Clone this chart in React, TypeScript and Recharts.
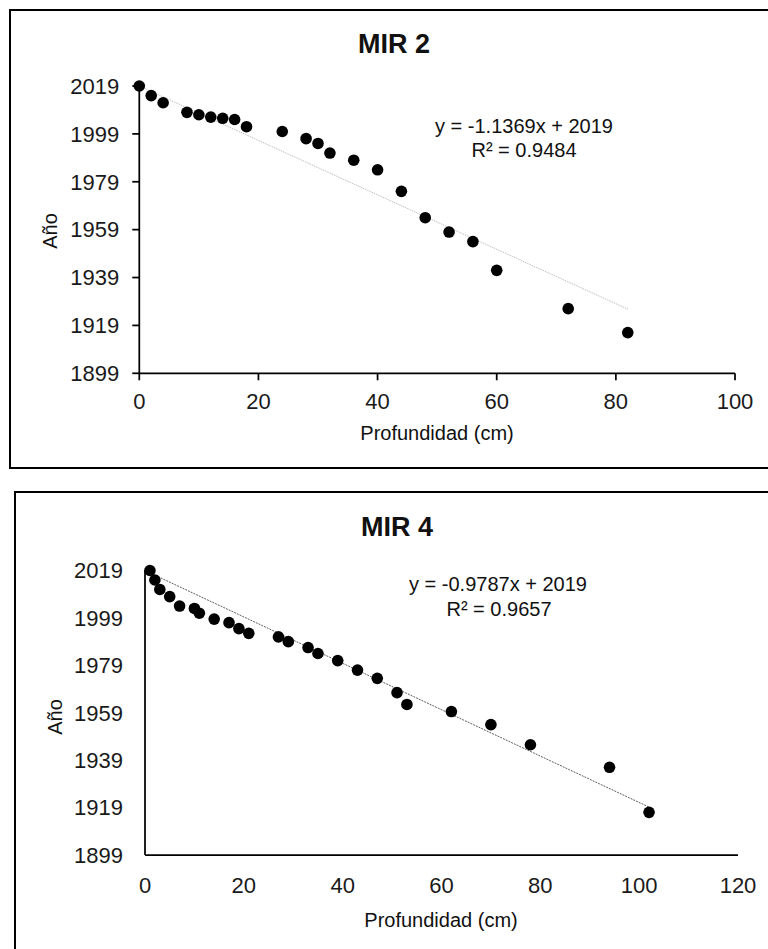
import React from 'react';
import { ScatterChart, Scatter, XAxis, YAxis, ReferenceLine } from 'recharts';

// ---- MIR 2 data ----
const mir2Depth = [0, 2, 4, 8, 10, 12, 14, 16, 18, 24, 28, 30, 32, 36, 40, 44, 48, 52, 56, 60, 72, 82];
const mir2Year = [2019, 2015, 2012, 2008, 2007, 2006, 2005.5, 2005, 2002, 2000, 1997, 1995, 1991, 1988, 1984, 1975, 1964, 1958, 1954, 1942, 1926, 1916];
const mir2TrendX = [0, 82];
const mir2TrendY = [2019, 1925.8];
const mir2XTicks = [0, 20, 40, 60, 80, 100];

// ---- MIR 4 data ----
const mir4Depth = [1, 2, 3, 5, 7, 10, 11, 14, 17, 19, 21, 27, 29, 33, 35, 39, 43, 47, 51, 53, 62, 70, 78, 94, 102];
const mir4Year = [2019, 2015, 2011, 2008, 2004, 2003, 2001, 1998.5, 1997, 1994.5, 1992.5, 1991, 1989, 1986.5, 1984, 1981, 1977, 1973.5, 1967.5, 1962.5, 1959.5, 1954, 1945.5, 1936, 1917];
const mir4TrendX = [1, 102];
const mir4TrendY = [2018, 1919.2];
const mir4XTicks = [0, 20, 40, 60, 80, 100, 120];

const yearTicks = [1899, 1919, 1939, 1959, 1979, 1999, 2019];

const FONT = '"Liberation Sans", Arial, sans-serif';

const toPoints = (xs: number[], ys: number[]) => xs.map((x, i) => ({ x, y: ys[i] }));

const Dot = (props: any) => <circle cx={props.cx} cy={props.cy} r={5.8} fill="#000" />;

const Txt = ({ x, y, size, bold, children, rotate }: any) => (
  <div
    style={{
      position: 'absolute',
      left: x,
      top: y,
      transform: `translate(-50%, -50%)${rotate ? ' rotate(-90deg)' : ''}`,
      fontFamily: FONT,
      fontSize: size,
      fontWeight: bold ? 'bold' : 'normal',
      lineHeight: 1,
      whiteSpace: 'nowrap',
      color: '#111',
    }}
  >
    {children}
  </div>
);

const tickStyle = { fontSize: 22, fill: '#1a1a1a', fontFamily: FONT };

export default function App() {
  const p2 = toPoints(mir2Depth, mir2Year);
  const p4 = toPoints(mir4Depth, mir4Year);
  const t2 = toPoints(mir2TrendX, mir2TrendY);
  const t4 = toPoints(mir4TrendX, mir4TrendY);

  return (
    <div style={{ position: 'absolute', left: 0, top: 0, width: 768, height: 949, overflow: 'hidden', background: '#fff' }}>
      {/* frames */}
      <div style={{ position: 'absolute', left: 9, top: 9, width: 800, height: 460, border: '2px solid #000', boxSizing: 'border-box' }} />
      <div style={{ position: 'absolute', left: 14, top: 491, width: 800, height: 520, border: '2px solid #000', boxSizing: 'border-box' }} />

      {/* MIR 2 */}
      <div style={{ position: 'absolute', left: 0, top: 0 }}>
        <ScatterChart width={768} height={470} margin={{ top: 86, right: 33, left: 59.3, bottom: 56.7 }}>
          <XAxis
            type="number"
            dataKey="x"
            domain={[0, 100]}
            ticks={mir2XTicks}
            interval={0}
            height={40}
            axisLine={{ stroke: '#000', strokeWidth: 1.75 }}
            tickLine={{ stroke: '#000', strokeWidth: 1.75 }}
            tickSize={7}
            tickMargin={13}
            tick={tickStyle}
          />
          <YAxis
            type="number"
            dataKey="y"
            domain={[1899, 2019]}
            ticks={yearTicks}
            interval={0}
            width={80}
            axisLine={{ stroke: '#000', strokeWidth: 1.75 }}
            tickLine={{ stroke: '#000', strokeWidth: 1.75 }}
            tickSize={7}
            tickMargin={13}
            tick={tickStyle}
          />
          <ReferenceLine
            segment={t2}
            stroke="#b0b0b0"
            strokeWidth={1}
            strokeDasharray="1 1"
            ifOverflow="visible"
          />
          <Scatter data={p2} shape={Dot} isAnimationActive={false} />
        </ScatterChart>
      </div>
      <Txt x={394} y={44} size={27} bold>MIR 2</Txt>
      <Txt x={524} y={126} size={20}>y = -1.1369x + 2019</Txt>
      <Txt x={524} y={150} size={20}>R² = 0.9484</Txt>
      <Txt x={437} y={433} size={20}>Profundidad (cm)</Txt>
      <Txt x={50} y={231} size={20} rotate>Año</Txt>

      {/* MIR 4 */}
      <div style={{ position: 'absolute', left: 0, top: 480 }}>
        <ScatterChart width={768} height={469} margin={{ top: 90.5, right: 30, left: 65, bottom: 54 }}>
          <XAxis
            type="number"
            dataKey="x"
            domain={[0, 120]}
            ticks={mir4XTicks}
            interval={0}
            height={40}
            axisLine={{ stroke: '#000', strokeWidth: 1.75 }}
            tickLine={false}
            tickSize={0}
            tickMargin={22}
            tick={tickStyle}
          />
          <YAxis
            type="number"
            dataKey="y"
            domain={[1899, 2019]}
            ticks={yearTicks}
            interval={0}
            width={80}
            axisLine={{ stroke: '#000', strokeWidth: 1.75 }}
            tickLine={false}
            tickSize={0}
            tickMargin={22}
            tick={tickStyle}
          />
          <ReferenceLine
            segment={t4}
            stroke="#606060"
            strokeWidth={1}
            strokeDasharray="2 1"
            ifOverflow="visible"
          />
          <Scatter data={p4} shape={Dot} isAnimationActive={false} />
        </ScatterChart>
      </div>
      <Txt x={397} y={527} size={27} bold>MIR 4</Txt>
      <Txt x={498} y={584} size={20}>y = -0.9787x + 2019</Txt>
      <Txt x={499} y={609} size={20}>R² = 0.9657</Txt>
      <Txt x={441} y={920} size={20}>Profundidad (cm)</Txt>
      <Txt x={55} y={717} size={20} rotate>Año</Txt>
    </div>
  );
}
